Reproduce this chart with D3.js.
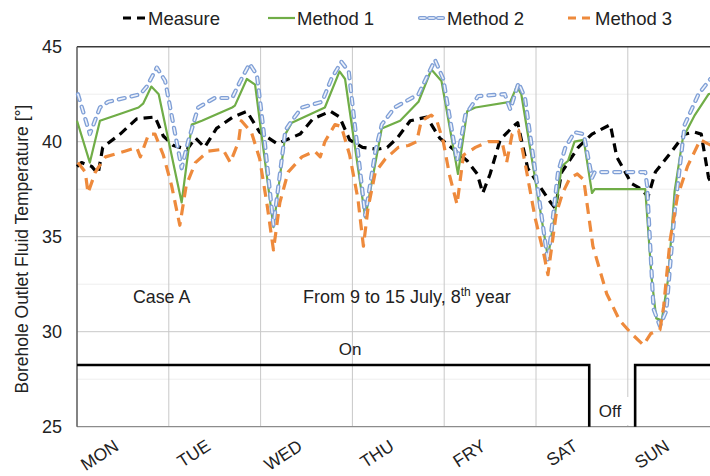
<!DOCTYPE html>
<html><head><meta charset="utf-8">
<script src="https://cdn.jsdelivr.net/npm/d3@7"></script>
<style>
body{margin:0;background:#fff}
text{font-family:"Liberation Sans",Arial,sans-serif;fill:#222}
</style>
</head><body>
<svg id="c" width="710" height="476"></svg>
<script>
// ---------- data ----------
const days = ["MON","TUE","WED","THU","FRY","SAT","SUN"];
const yTicks = [25,30,35,40,45];
const yMinor = [27.5,32.5,37.5,42.5];
const seriesNames = ["Measure","Method 1","Method 2","Method 3"];

// [day, temperature °C]
const measure = [[0,38.7],[0.05,38.9],[0.16,38.7],[0.23,38.3],[0.28,39.7],[0.47,40.4],[0.65,41.2],[0.85,41.3],[0.94,40.3],[1.05,39.8],[1.2,39.6],[1.29,40.2],[1.39,39.7],[1.52,40.7],[1.7,41.3],[1.85,41.6],[1.99,40.5],[2.18,39.9],[2.43,40.4],[2.57,41.2],[2.76,41.6],[2.86,41.3],[2.97,40.1],[3.11,39.7],[3.27,39.6],[3.38,39.7],[3.49,40.2],[3.63,41.1],[3.81,41.3],[3.95,40.2],[4.1,39.6],[4.25,39.0],[4.36,38.3],[4.42,37.3],[4.5,38.3],[4.61,40.1],[4.75,40.8],[4.8,41.0],[4.91,38.6],[5.02,37.8],[5.16,36.8],[5.21,36.5],[5.28,38.4],[5.46,39.7],[5.61,40.4],[5.81,40.9],[5.88,39.2],[6.04,37.8],[6.15,37.5],[6.22,37.1],[6.3,38.4],[6.48,39.5],[6.62,40.4],[6.73,40.5],[6.8,40.4],[6.88,38.1],[7,37.0]];

const method1 = [[0,41.1],[0.14,38.9],[0.25,41.1],[0.49,41.5],[0.67,41.8],[0.72,42.0],[0.81,42.9],[0.89,42.5],[1.14,36.8],[1.25,40.9],[1.36,41.1],[1.69,41.8],[1.72,41.9],[1.85,43.3],[1.94,43.0],[2.14,35.5],[2.27,40.4],[2.34,41.0],[2.7,41.8],[2.86,43.7],[2.92,43.3],[3.14,36.0],[3.32,40.7],[3.52,41.1],[3.72,42.1],[3.86,43.8],[3.97,43.2],[4.15,38.3],[4.25,41.6],[4.34,41.8],[4.72,42.1],[4.79,42.9],[4.84,42.5],[5.13,33.9],[5.21,36.3],[5.28,38.7],[5.35,39.0],[5.42,40.0],[5.52,40.1],[5.61,37.3],[5.64,37.5],[6.19,37.5],[6.26,32.8],[6.31,30.7],[6.37,30.6],[6.44,32.8],[6.51,37.4],[6.6,40.2],[6.73,41.4],[6.88,42.5],[7,42.6]];

const method2 = [[0.01,42.5],[0.14,40.4],[0.25,41.8],[0.34,42.1],[0.52,42.3],[0.69,42.5],[0.76,42.9],[0.87,43.9],[0.96,43.2],[1.14,38.6],[1.21,40.0],[1.32,41.8],[1.5,42.3],[1.69,42.3],[1.78,43.2],[1.88,44.1],[1.96,43.5],[2.03,40.7],[2.14,35.6],[2.27,40.6],[2.34,41.1],[2.45,41.8],[2.67,42.1],[2.77,43.3],[2.88,44.2],[2.96,43.7],[3.14,36.1],[3.25,39.5],[3.32,40.9],[3.46,41.8],[3.72,42.5],[3.9,44.3],[3.99,43.3],[4.14,39.0],[4.23,41.4],[4.37,42.4],[4.66,42.5],[4.72,41.7],[4.81,43.1],[4.88,42.3],[5.13,33.7],[5.24,38.4],[5.32,39.7],[5.42,40.5],[5.52,40.4],[5.61,38.1],[5.64,38.4],[6.19,38.4],[6.21,37.7],[6.28,31.2],[6.35,30.3],[6.42,31.1],[6.51,36.3],[6.62,40.9],[6.77,42.5],[6.9,43.3],[7,43.5]];

const method3 = [[0.01,38.9],[0.09,38.4],[0.12,37.3],[0.2,38.4],[0.31,39.2],[0.52,39.5],[0.65,39.7],[0.69,39.2],[0.78,40.4],[0.85,40.4],[0.94,39.3],[1.03,37.7],[1.12,35.6],[1.19,37.7],[1.29,38.9],[1.43,39.5],[1.59,39.6],[1.67,38.9],[1.76,40.0],[1.79,41.1],[1.9,40.5],[1.99,39.1],[2.07,36.7],[2.14,34.3],[2.21,36.8],[2.3,38.4],[2.45,39.2],[2.59,39.5],[2.65,39.2],[2.7,40.0],[2.81,40.9],[2.88,40.8],[2.97,39.3],[3.06,37.0],[3.12,34.5],[3.17,36.5],[3.25,38.4],[3.36,39.1],[3.5,39.7],[3.61,39.8],[3.7,40.0],[3.75,41.1],[3.86,41.4],[3.92,41.1],[3.99,40.0],[4.06,38.2],[4.14,36.7],[4.21,39.3],[4.34,39.7],[4.48,40.0],[4.63,40.0],[4.68,38.9],[4.74,40.4],[4.81,40.6],[4.88,38.9],[4.99,36.0],[5.08,34.2],[5.13,33.0],[5.22,36.2],[5.29,37.3],[5.37,38.1],[5.45,38.3],[5.52,38.0],[5.56,36.6],[5.62,34.5],[5.77,32.0],[5.91,30.6],[6.04,29.9],[6.17,29.3],[6.25,29.9],[6.35,30.1],[6.39,31.3],[6.46,34.8],[6.54,37.1],[6.65,38.7],[6.79,40.1],[6.87,39.9],[7,39.6]];

// pump operation: [day, level] (On = 28.25, Off = 25); null = no line drawn
const pumpStatus = [[0,28.25],[5.58,28.25],[5.58,25],null,[6.08,25],[6.08,28.25],[7,28.25]];

// ---------- drawing ----------
const svg = d3.select("#c");
const x = d3.scaleLinear().domain([0,7]).range([77,719.6]);
const y = d3.scaleLinear().domain([25,45]).range([426.7,46.7]);
const fontF = '"Liberation Sans",Arial,sans-serif';

// minor gridlines
svg.append("g").selectAll("line").data(yMinor).join("line")
  .attr("x1",x(0)).attr("x2",710).attr("y1",d=>y(d)).attr("y2",d=>y(d))
  .attr("stroke","#eeeeee").attr("stroke-width",1);
// major horizontal gridlines
svg.append("g").selectAll("line").data(yTicks.filter(d=>d>25 && d<45)).join("line")
  .attr("x1",x(0)).attr("x2",710).attr("y1",d=>y(d)).attr("y2",d=>y(d))
  .attr("stroke","#c8c8c8").attr("stroke-width",1);
// vertical gridlines
svg.append("g").selectAll("line").data(d3.range(1,8)).join("line")
  .attr("x1",d=>x(d)).attr("x2",d=>x(d)).attr("y1",y(45)).attr("y2",y(25))
  .attr("stroke","#c8c8c8").attr("stroke-width",1);

// axes frame
svg.append("line").attr("x1",x(0)).attr("x2",710).attr("y1",y(25)).attr("y2",y(25))
  .attr("stroke","#8c8c8c").attr("stroke-width",1.2);
svg.append("line").attr("x1",x(0)).attr("x2",710).attr("y1",y(45)).attr("y2",y(45))
  .attr("stroke","#3a3a3a").attr("stroke-width",1.5);
svg.append("line").attr("x1",x(0)).attr("x2",x(0)).attr("y1",y(45)).attr("y2",y(25))
  .attr("stroke","#5a5a5a").attr("stroke-width",1.5);

// Y axis labels
const yAxis = svg.append("g").attr("transform",`translate(${x(0)},0)`)
  .call(d3.axisLeft(y).tickValues(yTicks).tickSize(0).tickPadding(15));
yAxis.select(".domain").remove();
yAxis.selectAll("text").attr("font-size",18).attr("font-family",fontF).attr("fill","#333");

// Y axis title
svg.append("text").attr("transform",`translate(28,249) rotate(-90)`)
  .attr("text-anchor","middle").attr("font-size",17.5)
  .text("Borehole Outlet Fluid Temperature [°]");

// X labels (rotated)
svg.append("g").selectAll("text").data(days).join("text")
  .attr("transform",(d,i)=>`translate(${x(i+0.5)-3},449) rotate(-33)`)
  .attr("text-anchor","end").attr("font-size",17.5).attr("fill","#333")
  .text(d=>d);

// pump on/off line
const line = d3.line().x(d=>x(d[0])).y(d=>y(d[1]));
svg.append("path").datum(pumpStatus)
  .attr("d",d3.line().defined(d=>d!==null).x(d=>x(d[0])).y(d=>y(d[1])))
  .attr("fill","none").attr("stroke","#000").attr("stroke-width",2.6);

// annotations
svg.append("rect").attr("x",596).attr("y",397).attr("width",34).attr("height",28).attr("fill","#fff");
svg.append("text").attr("x",610).attr("y",417).attr("text-anchor","middle").attr("font-size",17).text("Off");
svg.append("text").attr("x",350).attr("y",355).attr("text-anchor","middle").attr("font-size",17).text("On");
svg.append("text").attr("x",133).attr("y",303).attr("font-size",17.8).text("Case A");
const ann = svg.append("text").attr("x",303).attr("y",303).attr("font-size",18);
ann.append("tspan").text("From 9 to 15 July, 8");
ann.append("tspan").attr("font-size",12).attr("dy",-7).text("th");
ann.append("tspan").attr("dy",7).text(" year");

// series
const styles = {
  "Measure": {data:measure, color:"#000", w:3.2, dash:"9,6"},
  "Method 1": {data:method1, color:"#70ad47", w:2.2, dash:null},
  "Method 2": {data:method2, color:"#7f9fd6", w:4.2, dash:"6,7", outline:true},
  "Method 3": {data:method3, color:"#ee8a3c", w:3.2, dash:"11,7"}
};
const g = svg.append("g");
seriesNames.forEach(n=>{
  const s = styles[n];
  const p = g.append("path").datum(s.data).attr("d",line).attr("fill","none")
    .attr("stroke",s.color).attr("stroke-width",s.w).attr("stroke-linejoin","round");
  if(s.dash) p.attr("stroke-dasharray",s.dash);
  if(s.outline){
    p.attr("stroke-linecap","round");
    g.append("path").datum(s.data).attr("d",line).attr("fill","none")
      .attr("stroke","#eef2fa").attr("stroke-width",1.6).attr("stroke-dasharray",s.dash)
      .attr("stroke-linecap","round");
  }
});

// legend
const legendPos = {"Measure":[123,148],"Method 1":[268,297],"Method 2":[420,447],"Method 3":[568,595]};
const lg = svg.append("g");
seriesNames.forEach(n=>{
  const s = styles[n], [lx,tx] = legendPos[n];
  const p = lg.append("line").attr("x1",lx).attr("x2",tx-2).attr("y1",18).attr("y2",18)
    .attr("stroke",s.color).attr("stroke-width",s.w);
  if(s.dash) p.attr("stroke-dasharray", n==="Method 2" ? "5,4" : "8,6");
  if(s.outline){
    p.attr("stroke-linecap","round");
    lg.append("line").attr("x1",lx).attr("x2",tx-2).attr("y1",18).attr("y2",18)
      .attr("stroke","#eef2fa").attr("stroke-width",1.6).attr("stroke-dasharray","5,4").attr("stroke-linecap","round");
  }
  lg.append("text").attr("x",tx).attr("y",24.5).attr("font-size",18.5).text(n);
});
</script>
</body></html>
